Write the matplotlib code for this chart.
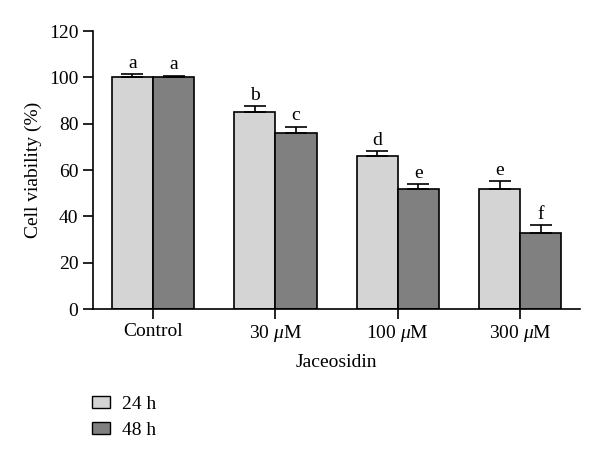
import numpy as np
import matplotlib
matplotlib.use("Agg")
import matplotlib.pyplot as plt
from matplotlib.patches import Patch

plt.rcParams['font.family'] = ['Liberation Serif', 'DejaVu Serif']
plt.rcParams['mathtext.fontset'] = 'custom'
plt.rcParams['mathtext.it'] = 'Liberation Serif:italic'
plt.rcParams['mathtext.rm'] = 'Liberation Serif'

# data
groups = ['Control', r'30 $\mu$M', r'100 $\mu$M', r'300 $\mu$M']
h24 = [100.0, 84.9, 65.9, 51.9]
h24_err = [1.3, 2.7, 2.3, 3.3]
h48 = [100.0, 76.1, 51.9, 32.9]
h48_err = [0.8, 2.7, 2.0, 3.3]
letters24 = ['a', 'b', 'd', 'e']
letters48 = ['a', 'c', 'e', 'f']

light = '#d4d4d4'
dark = '#808080'

fig = plt.figure(figsize=(6, 4.58), dpi=100)
ax = fig.add_axes([0.155, 0.325, 0.812, 0.607])

x = np.arange(len(groups))
w = 0.336
ax.bar(x - w / 2, h24, w, color=light, edgecolor='black', linewidth=1.2,
       yerr=[np.zeros(4), h24_err], capsize=8,
       error_kw=dict(elinewidth=1.2, capthick=1.2, ecolor='black'))
ax.bar(x + w / 2, h48, w, color=dark, edgecolor='black', linewidth=1.2,
       yerr=[np.zeros(4), h48_err], capsize=8,
       error_kw=dict(elinewidth=1.2, capthick=1.2, ecolor='black'))

for i in range(len(groups)):
    ax.text(x[i] - w / 2, h24[i] + h24_err[i] + 1.0, letters24[i],
            ha='center', va='bottom', fontsize=14)
    ax.text(x[i] + w / 2, h48[i] + h48_err[i] + 1.0, letters48[i],
            ha='center', va='bottom', fontsize=14)

ax.set_xlim(-0.49, 3.49)
ax.set_ylim(0, 120)
ax.set_yticks(range(0, 121, 20))
ax.set_xticks(x)
ax.set_xticklabels(groups, fontsize=14)
ax.tick_params(axis='y', labelsize=14, length=7, width=1.2, direction='out')
ax.tick_params(axis='x', length=7, width=1.2, direction='out', pad=3)
for s in ['top', 'right']:
    ax.spines[s].set_visible(False)
for s in ['left', 'bottom']:
    ax.spines[s].set_linewidth(1.2)

ax.set_ylabel('Cell viability (%)', fontsize=14, labelpad=5)
ax.set_xlabel('Jaceosidin', fontsize=14, labelpad=7)

handles = [Patch(facecolor=light, edgecolor='black', label='24 h'),
           Patch(facecolor=dark, edgecolor='black', label='48 h')]
fig.legend(handles=handles, loc='upper left', bbox_to_anchor=(0.153, 0.135),
           frameon=False, fontsize=14, handlelength=0.95, handleheight=0.55,
           labelspacing=0.45, handletextpad=0.6, borderpad=0, borderaxespad=0)

fig.savefig('out.png', dpi=100)
